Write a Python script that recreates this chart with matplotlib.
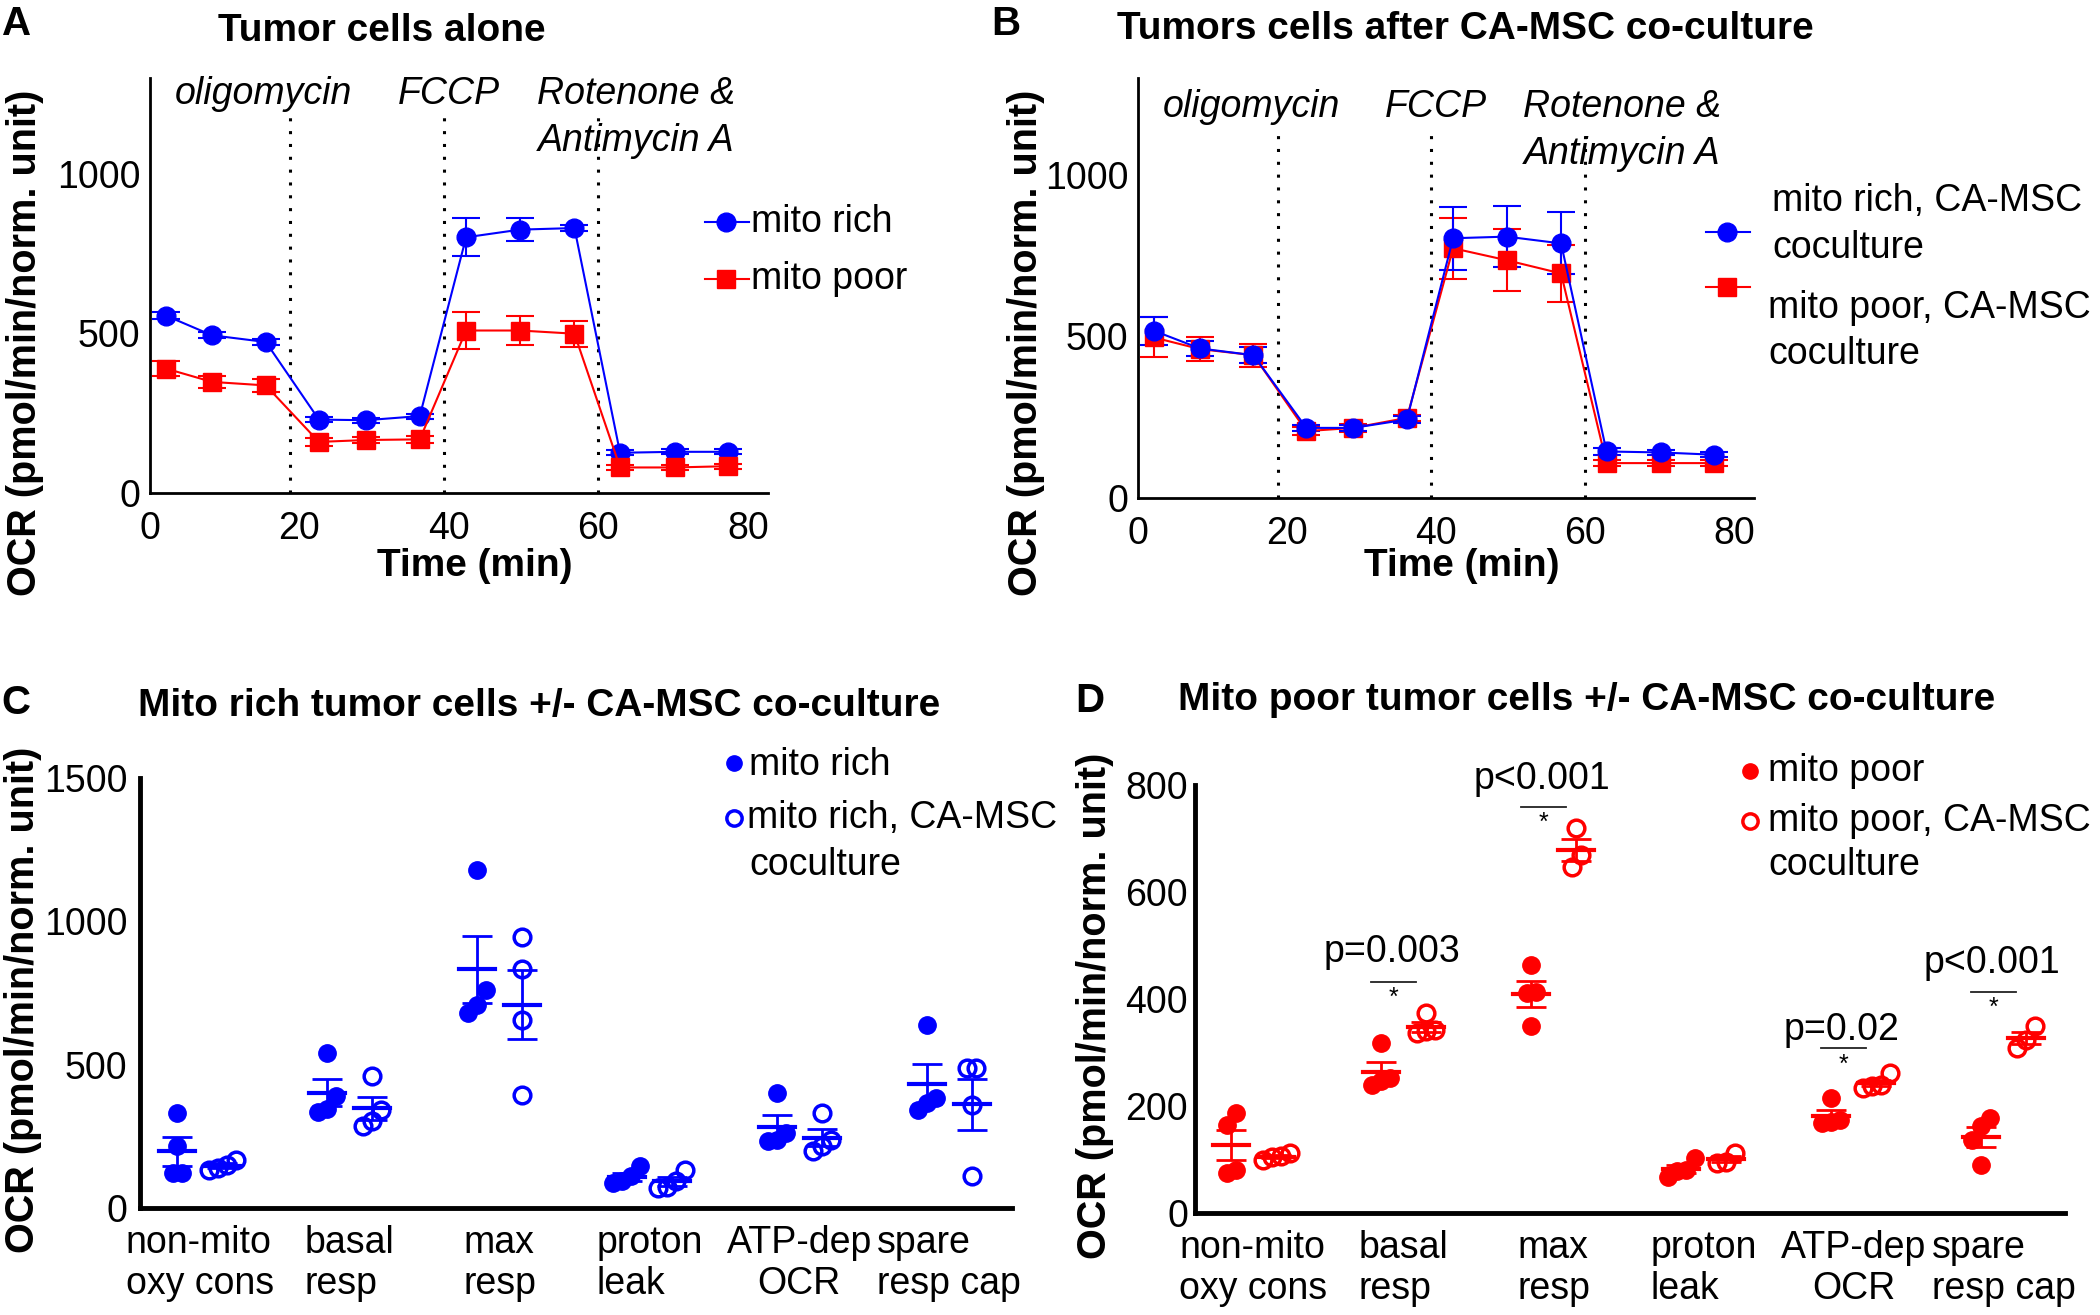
import numpy as np
import matplotlib
matplotlib.use("Agg")
import matplotlib.pyplot as plt
from matplotlib.lines import Line2D
from matplotlib.transforms import ScaledTranslation

plt.rcParams['font.family'] = ['Liberation Sans', 'DejaVu Sans']

W, H = 2100, 1315
BLUE = '#0000ff'
RED = '#ff0000'
FS = 27

# ---- panels A and B: Seahorse time course (mean +/- error)
time_min = [2.1, 8.3, 15.5, 22.6, 28.9, 36.1, 42.3, 49.5, 56.8, 62.9, 70.2, 77.3]
injections = [18.8, 39.4, 60.0]
drug_lines = [["oligomycin"], ["FCCP"], ["Rotenone &", "Antimycin A"]]
drug_x = [15.2, 40.0, 65.0]

rich_mean = [556, 494, 473, 230, 228, 241, 801, 825, 830, 126, 129, 129]
rich_err = [10, 10, 10, 8, 8, 8, 60, 37, 10, 8, 8, 8]
poor_mean = [390, 348, 337, 160, 166, 168, 509, 509, 499, 80, 80, 84]
poor_err = [25, 20, 20, 12, 10, 10, 57, 44, 41, 8, 8, 8]

rich_cc_mean = [518, 463, 442, 217, 217, 243, 804, 809, 788, 144, 141, 134]
rich_cc_err = [43, 23, 25, 10, 10, 10, 98, 95, 96, 10, 8, 8]
poor_cc_mean = [497, 461, 442, 207, 217, 248, 773, 736, 695, 108, 108, 108]
poor_cc_err = [62, 36, 35, 12, 12, 10, 94, 96, 87, 10, 10, 10]

# ---- panels C and D: individual replicates per parameter
params = ["non-mito\noxy cons", "basal\nresp", "max\nresp", "proton\nleak",
          "ATP-dep\nOCR", "spare\nresp cap"]
c_rich = [[331, 215, 122, 122], [540, 390, 345, 335], [1180, 761, 709, 680],
          [110, 93, 87, 145], [401, 262, 238, 232], [639, 384, 366, 343]]
c_rich_cc = [[151, 140, 134, 168], [459, 343, 302, 285], [947, 834, 657, 395],
             [93, 75, 70, 134], [331, 238, 215, 198], [488, 488, 360, 110]]
d_poor = [[187, 165, 75, 81], [317, 252, 246, 240], [464, 414, 411, 349],
          [78, 68, 81, 103], [174, 168, 171, 215], [177, 137, 162, 90]]
d_poor_cc = [[112, 104, 100, 106], [374, 342, 336, 340], [719, 669, 647],
             [112, 96, 93], [261, 240, 233, 237], [349, 324, 308]]

sig_cats = [1, 2, 4, 5]
sig_labels = ["p=0.003", "p<0.001", "p=0.02", "p<0.001"]
sig_line_y = [432, 759, 308, 414]
sig_text_y = [488, 812, 342, 468]


def fx(x):
    return x / W


def fy(y):
    return 1 - y / H


fig = plt.figure(figsize=(21, 13.15), dpi=100)


def style_axes(ax, lw):
    for s in ['top', 'right']:
        ax.spines[s].set_visible(False)
    for s in ['left', 'bottom']:
        ax.spines[s].set_linewidth(lw)
    ax.tick_params(length=0, labelsize=FS)


def time_panel(rect, series, ytop_lines, text_y):
    ax = fig.add_axes(rect)
    style_axes(ax, 2)
    for inj in injections:
        ax.plot([inj, inj], [0, ytop_lines], color='black', lw=2.2,
                linestyle=(0, (1, 3.2)), zorder=1)
    for xpos, lines in zip(drug_x, drug_lines):
        for i, t in enumerate(lines):
            ax.text(xpos, text_y - i * 147, t, style='italic', fontsize=FS,
                    ha='center', va='center')
    for mean, err, col, mk, ms in series:
        ax.errorbar(time_min, mean, yerr=err, color=col, marker=mk, ms=ms,
                    lw=1.5, elinewidth=1.5, capsize=10, capthick=1.5, zorder=3)
    ax.set_xlim(0, 82.7)
    ax.set_ylim(0, 1300)
    ax.set_xticks([0, 20, 40, 60, 80])
    ax.set_yticks([0, 500, 1000])
    ax.tick_params(axis='x', pad=13)
    ax.tick_params(axis='y', pad=7)
    return ax


axA = time_panel([fx(150), fy(493), (768 - 150) / W, (493 - 78) / H],
                 [(rich_mean, rich_err, BLUE, 'o', 13.5),
                  (poor_mean, poor_err, RED, 's', 12.5)], 1180, 1249)
axB = time_panel([fx(1138), fy(498), (1754 - 1138) / W, (498 - 78) / H],
                 [(poor_cc_mean, poor_cc_err, RED, 's', 12.5),
                  (rich_cc_mean, rich_cc_err, BLUE, 'o', 13.5)], 1150, 1211)


def jitter(vals, thresh, step=0.06):
    vals = np.asarray(vals, float)
    order = np.argsort(vals)
    offs = np.zeros(len(vals))
    clusters = [[order[0]]]
    for i in order[1:]:
        if vals[i] - vals[clusters[-1][-1]] < thresh:
            clusters[-1].append(i)
        else:
            clusters.append([i])
    for cl in clusters:
        k = len(cl)
        for j, idx in enumerate(cl):
            offs[idx] = (j - (k - 1) / 2) * step
    return offs


def scatter_panel(rect, groups_a, groups_b, col, ytop, yticks, xlim, ypad):
    ax = fig.add_axes(rect)
    style_axes(ax, 3.5)
    thresh = 0.04 * ytop
    for ci, (ga, gb) in enumerate(zip(groups_a, groups_b)):
        for vals, dx, filled in [(ga, -0.15, True), (gb, 0.15, False)]:
            x0 = ci + dx
            xs = x0 + jitter(vals, thresh)
            if filled:
                ax.plot(xs, vals, 'o', color=col, ms=12.5, zorder=2, clip_on=False)
            else:
                ax.plot(xs, vals, 'o', mfc='none', mec=col, mew=2.5, ms=12,
                        zorder=2, clip_on=False)
            m = np.mean(vals)
            sem = np.std(vals, ddof=1) / np.sqrt(len(vals))
            ax.plot([x0 - 0.12, x0 + 0.12], [m, m], color=col, lw=3, zorder=3)
            ax.errorbar([x0], [m], yerr=[sem], fmt='none', ecolor=col,
                        elinewidth=2, capsize=11, capthick=2, zorder=3)
    ax.set_xlim(*xlim)
    ax.set_ylim(0, ytop)
    ax.set_yticks(yticks)
    ax.set_xticks(range(len(params)))
    ax.set_xticklabels(params)
    for i, lab in enumerate(ax.get_xticklabels()):
        lab.set_multialignment('center' if i == 4 else 'left')
        lab.set_transform(lab.get_transform() +
                          ScaledTranslation(0.12, 0, fig.dpi_scale_trans))
    for lab in ax.get_yticklabels():
        lab.set_transform(lab.get_transform() +
                          ScaledTranslation(0, -0.10, fig.dpi_scale_trans))
    ax.tick_params(axis='x', pad=12)
    ax.tick_params(axis='y', pad=ypad)
    return ax


axC = scatter_panel([fx(140), fy(1208), (1012 - 140) / W, (1208 - 778) / H],
                    c_rich, c_rich_cc, BLUE, 1500, [0, 500, 1000, 1500],
                    (-0.4, 5.42), 9)
axD = scatter_panel([fx(1195), fy(1213), (2065 - 1195) / W, (1213 - 785) / H],
                    d_poor, d_poor_cc, RED, 800, [0, 200, 400, 600, 800],
                    (-0.39, 5.41), 5)

# significance marks in D
for c, lab, ly, ty in zip(sig_cats, sig_labels, sig_line_y, sig_text_y):
    xc = c - 0.07
    axD.plot([xc - 0.15, xc + 0.15], [ly, ly], color='#222222', lw=1.3,
             clip_on=False)
    axD.text(xc, ly - 8, '*', fontsize=18, ha='center', va='top')
    axD.text(c - 0.08, ty, lab, fontsize=FS, ha='center', va='center')

# panel letters, titles, axis labels
for letter, x, y in [('A', 17, 24), ('B', 1006, 24), ('C', 16, 703), ('D', 1090, 701)]:
    fig.text(fx(x), fy(y), letter, fontsize=29, fontweight='bold',
             ha='center', va='center')
for title, x, y in [("Tumor cells alone", 382, 31),
                    ("Tumors cells after CA-MSC co-culture", 1465, 29),
                    ("Mito rich tumor cells +/- CA-MSC co-culture", 539, 706),
                    ("Mito poor tumor cells +/- CA-MSC co-culture", 1587, 700)]:
    fig.text(fx(x), fy(y), title, fontsize=28, fontweight='bold',
             ha='center', va='center')
for x, y in [(25, 343), (1026, 343), (23, 1000), (1095, 1006)]:
    fig.text(fx(x), fy(y), "OCR (pmol/min/norm. unit)", fontsize=28.5,
             fontweight='bold', rotation=90, ha='center', va='center')
for x in [475, 1462]:
    fig.text(fx(x), fy(566), "Time (min)", fontsize=28, fontweight='bold',
             ha='center', va='center')


# legends drawn by hand (the original ones are not evenly spaced)
def line_key(x0, x1, xm, y, col, mk, ms):
    fig.add_artist(Line2D([fx(x0), fx(x1)], [fy(y), fy(y)], color=col, lw=1.5))
    fig.add_artist(Line2D([fx(xm)], [fy(y)], color=col, marker=mk, ms=ms))


def dot_key(xm, y, col, filled):
    if filled:
        fig.add_artist(Line2D([fx(xm)], [fy(y)], marker='o', color=col, ms=11))
    else:
        fig.add_artist(Line2D([fx(xm)], [fy(y)], marker='o', mfc='none',
                              mec=col, mew=2.5, ms=11))


def key_text(x, y, s):
    fig.text(fx(x), fy(y), s, fontsize=FS, ha='left', va='center')


line_key(705, 749, 726, 222, BLUE, 'o', 13.5)
line_key(705, 749, 726, 279, RED, 's', 12.5)
key_text(751, 222, "mito rich")
key_text(751, 279, "mito poor")

line_key(1706, 1750, 1727, 232, BLUE, 'o', 13.5)
line_key(1706, 1750, 1727, 287, RED, 's', 12.5)
key_text(1772, 201, "mito rich, CA-MSC")
key_text(1772, 248, "coculture")
key_text(1768, 308, "mito poor, CA-MSC")
key_text(1768, 354, "coculture")

dot_key(734, 763, BLUE, True)
dot_key(734, 818, BLUE, False)
key_text(749, 765, "mito rich")
key_text(747, 818, "mito rich, CA-MSC")
key_text(749, 865, "coculture")

dot_key(1750, 771, RED, True)
dot_key(1750, 821, RED, False)
key_text(1768, 771, "mito poor")
key_text(1768, 821, "mito poor, CA-MSC")
key_text(1768, 865, "coculture")

fig.savefig("out.png", dpi=100)
